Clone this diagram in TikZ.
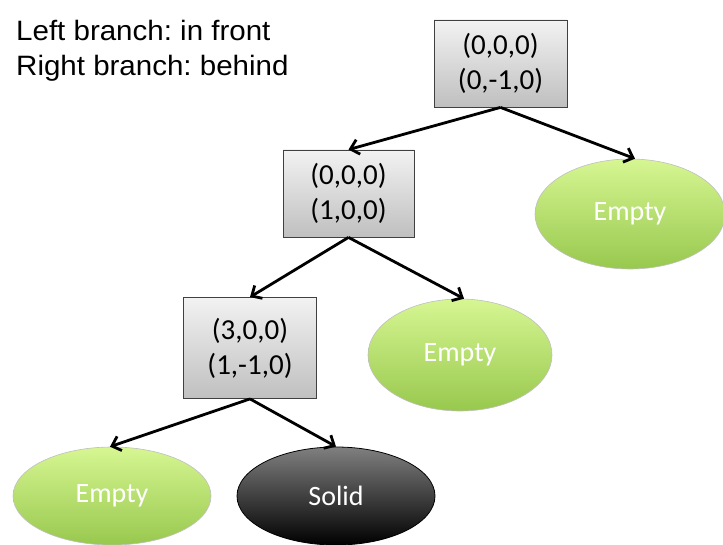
\documentclass[tikz,border=0pt]{standalone}
\usepackage{fontspec}
\setmainfont{Carlito}
\newfontfamily\labelfont{Liberation Sans}[FakeStretch=1.054]
\usetikzlibrary{arrows.meta,shapes.geometric}
\frenchspacing
\tikzset{
  boxnode/.style={draw=black!75, line width=0.8pt, minimum width=133pt, minimum height=87pt,
    top color=black!5, bottom color=black!25, align=center, font=\fontsize{29}{35}\selectfont, inner sep=0pt},
  emptynode/.style={ellipse, draw=black!25, line width=0.6pt, top color={rgb,255:red,214;green,246;blue,146},
    bottom color={rgb,255:red,152;green,200;blue,78}, text=white, font=\fontsize{28}{32}\selectfont,
    minimum width=190pt, minimum height=110pt, inner sep=0pt},
  solidnode/.style={ellipse, draw=black, line width=0.8pt, top color=black!50, bottom color=black,
    text=white, font=\fontsize{28}{32}\selectfont, minimum width=198pt, minimum height=98pt, inner sep=0pt},
  edge/.style={line width=2.8pt, -{Straight Barb[length=8pt,width=15pt,line width=2.8pt]}}
}
\begin{document}
\begin{tikzpicture}[x=1pt,y=-1pt]
\useasboundingbox (0,0) rectangle (723,545);
\node[anchor=north west, align=left, font=\labelfont\fontsize{28}{35}\selectfont, inner sep=0pt] (legend) at (16,20.5)
  {Left branch: in front\\Right branch: behind};
\node[boxnode] (b1) at (500.5,63.5) {(0,0,0)\\(0,-1,0)};
\node[boxnode, minimum width=131pt] (b2) at (348.5,193.5) {(0,0,0)\\(1,0,0)};
\node[boxnode, minimum height=101pt] (b3) at (250,348) {(3,0,0)\\(1,-1,0)};
\node[emptynode] (e1) at (630,214) {Empty};
\node[emptynode, minimum width=184pt, minimum height=112pt] (e2) at (460,355) {Empty};
\node[emptynode, minimum width=198pt, minimum height=98pt] (e3) at (112,496) {Empty};
\node[solidnode] (s) at (336,496) {Solid};
\draw[edge] (b1.south) -- (b2.north);
\draw[edge] (b1.south) -- ([xshift=5pt]e1.north);
\draw[edge] (b2.south) -- (b3.north);
\draw[edge] (b2.south) -- ([xshift=4pt]e2.north);
\draw[edge] (b3.south) -- ([xshift=-2pt]e3.north);
\draw[edge] (b3.south) -- (s.north);
\end{tikzpicture}
\end{document}
